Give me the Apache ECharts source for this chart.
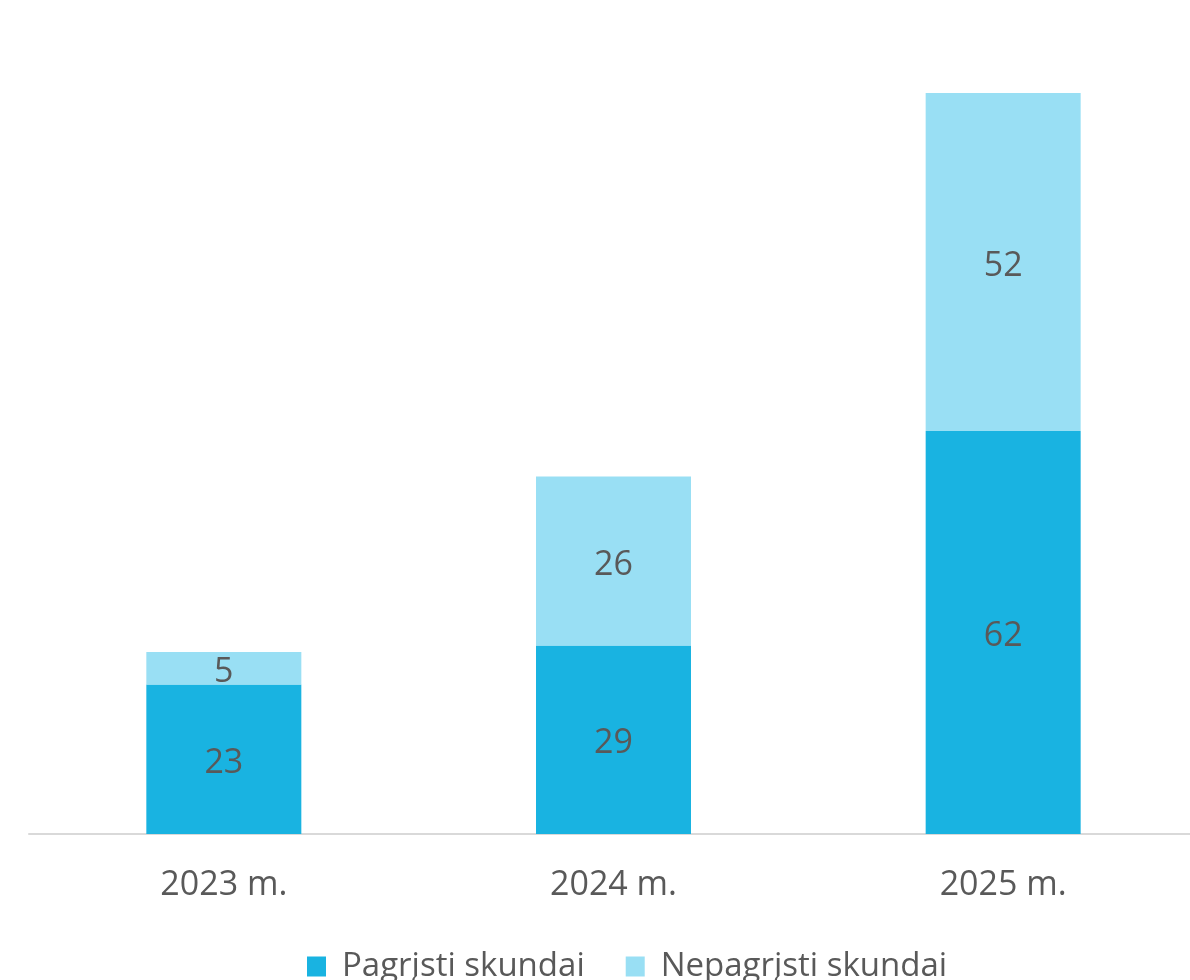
<!DOCTYPE html>
<html>
<head>
<meta charset="utf-8">
<script src="https://cdn.jsdelivr.net/npm/echarts@6/dist/echarts.min.js"></script>
<style>
  html, body { margin: 0; padding: 0; background: #fff; }
  #main { width: 1190px; height: 980px; }
</style>
</head>
<body>
<div id="main"></div>
<script>
var categories = ['2023 m.', '2024 m.', '2025 m.'];
var pagrjsti = [23, 29, 62];
var nepagrjsti = [5, 26, 52];
var seriesNames = ['Pagrįsti skundai', 'Nepagrįsti skundai'];

var chart = echarts.init(document.getElementById('main'));
var font = '"Open Sans", "Noto Sans", sans-serif';

var labelStyle = {
  show: true,
  position: 'inside',
  offset: [0, 4],
  color: '#595959',
  fontSize: 34,
  fontFamily: font
};

var option = {
  animation: false,
  backgroundColor: '#fff',
  grid: { left: 29, width: 1169, top: 54, bottom: 146, outerBoundsMode: 'none', containLabel: false },
  legend: {
    top: 945,
    left: 302,
    itemWidth: 19,
    itemHeight: 20,
    itemGap: 41,
    icon: 'rect',
    textStyle: { color: '#595959', fontSize: 33, fontFamily: font, padding: [0, 0, 0, 11] },
    data: seriesNames
  },
  xAxis: {
    type: 'category',
    data: categories,
    axisLine: { lineStyle: { color: '#d9d9d9', width: 2 } },
    axisTick: { show: false },
    axisLabel: { color: '#595959', fontSize: 34, fontFamily: font, margin: 34 }
  },
  yAxis: {
    type: 'value',
    min: 0,
    max: 120,
    show: false
  },
  series: [
    {
      name: seriesNames[0],
      type: 'bar',
      stack: 'total',
      barWidth: 155,
      itemStyle: { color: '#19b3e1' },
      label: labelStyle,
      data: pagrjsti
    },
    {
      name: seriesNames[1],
      type: 'bar',
      stack: 'total',
      barWidth: 155,
      itemStyle: { color: '#99dff4' },
      label: labelStyle,
      data: nepagrjsti
    }
  ]
};

chart.setOption(option);
</script>
</body>
</html>
